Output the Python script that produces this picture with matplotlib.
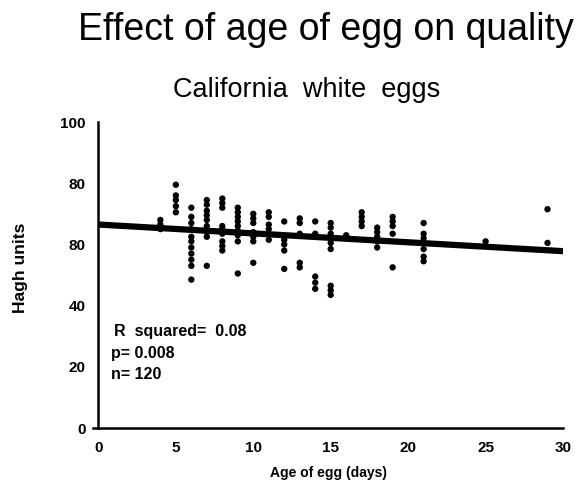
import matplotlib
matplotlib.use("Agg")
import matplotlib.pyplot as plt
import numpy as np

plt.rcParams["font.family"] = ["Liberation Sans", "DejaVu Sans"]

# egg age (days) and haugh units, one list per day
ages = [4, 5, 6, 7, 8, 9, 10, 11, 12, 13, 14, 15, 16, 17, 18, 19, 21, 25, 29]
haugh = [
    [68, 66.5, 65],
    [79.5, 76, 74.5, 72.5, 70.5],
    [72, 69, 67, 65, 62.5, 61, 59, 57, 55, 53, 48.5],
    [74.5, 73, 71, 69.5, 68, 66, 64, 62.5, 53],
    [75, 73.5, 72, 66, 65, 63.5, 61, 59.5, 58],
    [72, 70.5, 69, 67.5, 66, 64.5, 63, 61, 50.5],
    [70, 68.5, 67, 64, 62.5, 61, 54],
    [70.5, 69, 66.5, 65, 63.5, 61.5],
    [67.5, 61.5, 60, 58, 52],
    [68.5, 67, 63.5, 54, 52.5],
    [67.5, 63.5, 49.5, 47.5, 45.5],
    [67, 65.5, 63.5, 62, 60.5, 58.5, 46.5, 45, 43.5],
    [63],
    [70.5, 69, 67.5, 66],
    [65.5, 64, 62.5, 61, 59],
    [69, 67.5, 66, 63.5, 52.5],
    [67, 63.5, 62, 60.5, 58.5, 56, 54.5],
    [61],
    [71.5, 60.5],
]

# regression line as drawn
fit_x = [0, 30]
fit_y = [66.5, 57.8]

stats = ["R  squared=  0.08", "p= 0.008", "n= 120"]

y_ticks = [0, 20, 40, 60, 80, 100]
y_tick_labels = ["0", "20", "40", "80", "80", "100"]
x_ticks = [0, 5, 10, 15, 20, 25, 30]

x_pts = np.concatenate([[a] * len(v) for a, v in zip(ages, haugh)])
y_pts = np.concatenate(haugh)

fig = plt.figure(figsize=(5.79, 4.92), dpi=100)
ax = fig.add_axes([0.1606, 0.130, 0.8118, 0.622])

ax.plot(fit_x, fit_y, color="black", linewidth=4.5, solid_capstyle="butt", zorder=2)
ax.scatter(x_pts, y_pts, s=21, color="black", edgecolors="none", zorder=3)

ax.set_xlim(-0.35, 30)
ax.set_ylim(0, 100)
ax.spines["top"].set_visible(False)
ax.spines["right"].set_visible(False)
ax.spines["left"].set_position(("data", 0))
ax.spines["left"].set_linewidth(1.8)
ax.spines["bottom"].set_linewidth(1.8)

ax.set_xticks(x_ticks)
ax.set_yticks(y_ticks)
ax.set_yticklabels(y_tick_labels)
ax.tick_params(axis="both", length=0, labelsize=11)
ax.tick_params(axis="x", pad=9)
ax.tick_params(axis="y", pad=9)
for lab in ax.get_xticklabels() + ax.get_yticklabels():
    lab.set_fontweight("bold")

ax.set_xlabel("Age of egg (days)", fontsize=10, fontweight="bold")
ax.xaxis.set_label_coords(0.5, -0.125)
fig.text(0.036, 0.455, "Hagh units", rotation=90, fontsize=12.5, fontweight="bold",
         ha="center", va="center")

stat_x = [1.0, 0.8, 0.8]
stat_y = [31.5, 24.3, 17.4]
for sx, sy, s in zip(stat_x, stat_y, stats):
    ax.text(sx, sy, s, fontsize=11.5, fontweight="bold", ha="left", va="center")

fig.text(0.563, 0.939, "Effect of age of egg on quality", fontsize=27,
         ha="center", va="center")
fig.text(0.530, 0.818, "California  white  eggs", fontsize=19.5,
         ha="center", va="center")

plt.savefig("out.png", dpi=100)
plt.close()
